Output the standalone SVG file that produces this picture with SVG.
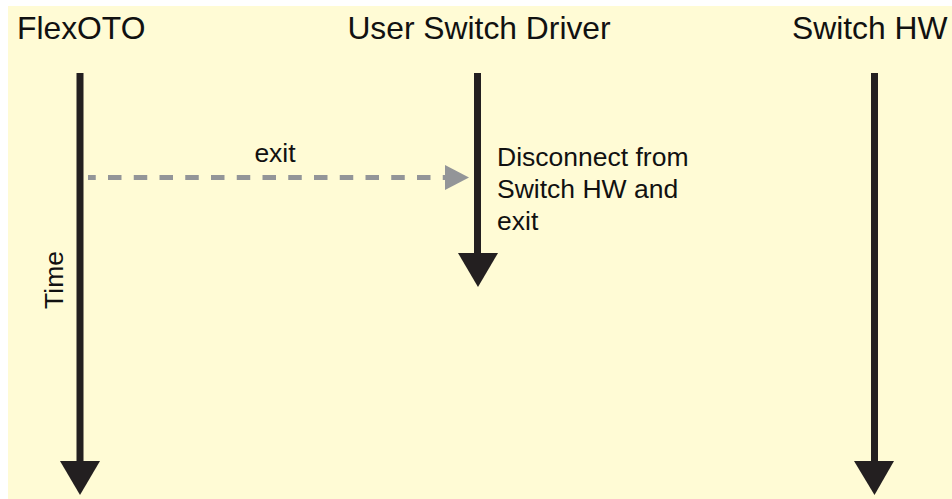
<svg xmlns="http://www.w3.org/2000/svg" width="952" height="499" viewBox="0 0 952 499">
  <style>
    .title { font-family: "Liberation Sans", Arial, sans-serif; font-size: 31.8px; fill: #111111; }
    .note { font-family: "Liberation Sans", Arial, sans-serif; font-size: 26.5px; fill: #111111; }
    .life { stroke: #231F20; stroke-width: 7; fill: none; }
    .head { fill: #231F20; }
    .msg { stroke: #939598; stroke-width: 5; fill: none; stroke-dasharray: 13.5 12.25; }
    .msghead { fill: #939598; }
  </style>

  <!-- page background -->
  <rect x="0" y="0" width="952" height="499" fill="#ffffff"/>
  <rect x="8" y="6" width="944" height="493" fill="#FFFBD5"/>

  <!-- lifeline: FlexOTO -->
  <g id="flexoto">
    <text class="title" x="17" y="39">FlexOTO</text>
    <line class="life" x1="80" y1="73" x2="80" y2="463"/>
    <polygon class="head" points="60,461 100,461 80,495"/>
    <text class="note" x="0" y="0" font-size="25" text-anchor="middle" transform="translate(63 280) rotate(-90)">Time</text>
  </g>

  <!-- lifeline: User Switch Driver -->
  <g id="user-switch-driver">
    <text class="title" x="479" y="39" text-anchor="middle">User Switch Driver</text>
    <line class="life" x1="477.5" y1="73" x2="477.5" y2="255"/>
    <polygon class="head" points="458,253 498,253 478,287"/>
    <text class="note" x="497" y="166">Disconnect from</text>
    <text class="note" x="497" y="198">Switch HW and</text>
    <text class="note" x="497" y="230">exit</text>
  </g>

  <!-- lifeline: Switch HW -->
  <g id="switch-hw">
    <text class="title" x="792" y="39">Switch HW</text>
    <line class="life" x1="874.5" y1="73" x2="874.5" y2="463"/>
    <polygon class="head" points="854,461 894,461 874.5,495"/>
  </g>

  <!-- messages -->
  <g id="connectors">
    <line class="msg" x1="88" y1="177.5" x2="445" y2="177.5" stroke-dashoffset="5.75"/>
    <polygon class="msghead" points="445,165 445,190 469,177.5"/>
    <text class="note" x="275" y="162" text-anchor="middle">exit</text>
  </g>
</svg>
